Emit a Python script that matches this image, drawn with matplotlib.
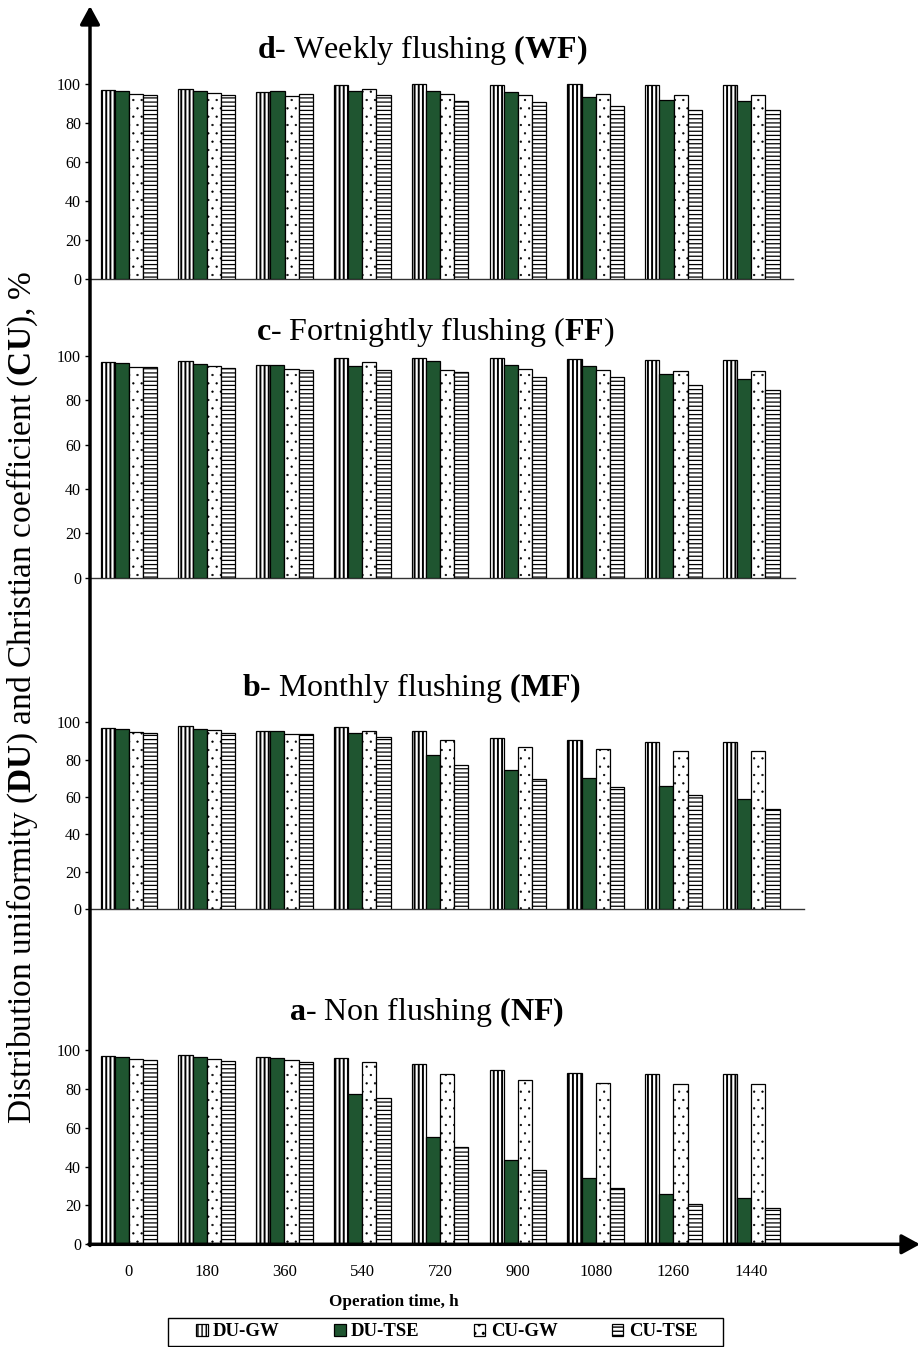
import matplotlib
matplotlib.use('Agg')
import matplotlib.pyplot as plt
from matplotlib.patches import Rectangle
import numpy as np

plt.rcParams['font.family'] = ['Liberation Serif', 'DejaVu Serif']
plt.rcParams['mathtext.fontset'] = 'custom'
plt.rcParams['mathtext.rm'] = 'Liberation Serif'
plt.rcParams['mathtext.bf'] = 'Liberation Serif:bold'
plt.rcParams['mathtext.it'] = 'Liberation Serif:italic'
plt.rcParams['hatch.linewidth'] = 1.2

times = ['0', '180', '360', '540', '720', '900', '1080', '1260', '1440']
series = ['DU-GW', 'DU-TSE', 'CU-GW', 'CU-TSE']

# d- weekly flushing
du_gw_wf = [96.8, 97.3, 95.9, 99.5, 100.0, 99.3, 100.0, 99.3, 99.3]
du_tse_wf = [96.2, 96.2, 96.6, 96.2, 96.2, 95.9, 93.5, 91.6, 91.3]
cu_gw_wf = [94.7, 95.4, 93.7, 97.4, 94.7, 94.2, 95.0, 94.2, 94.2]
cu_tse_wf = [94.2, 94.4, 94.7, 94.2, 91.3, 90.9, 88.5, 86.5, 86.5]

# c- fortnightly flushing
du_gw_ff = [97.0, 97.5, 95.8, 99.1, 98.8, 99.0, 98.6, 98.2, 98.2]
du_tse_ff = [96.6, 96.4, 95.7, 95.4, 97.6, 95.8, 95.2, 91.8, 89.5]
cu_gw_ff = [95.0, 95.4, 93.9, 97.0, 93.7, 94.0, 93.7, 93.2, 93.2]
cu_tse_ff = [94.8, 94.3, 93.7, 93.4, 92.8, 90.5, 90.3, 86.7, 84.4]

# b- monthly flushing
du_gw_mf = [96.8, 97.9, 95.5, 97.5, 95.5, 91.4, 90.7, 89.5, 89.5]
du_tse_mf = [96.4, 96.3, 95.5, 94.1, 82.5, 74.7, 70.2, 65.9, 59.0]
cu_gw_mf = [95.0, 95.9, 93.7, 95.5, 90.5, 86.6, 85.7, 84.7, 84.7]
cu_tse_mf = [94.4, 94.3, 93.6, 92.0, 77.3, 69.7, 65.2, 61.0, 53.8]

# a- non flushing
du_gw_nf = [96.9, 97.3, 96.4, 95.7, 93.0, 89.5, 88.0, 87.5, 87.5]
du_tse_nf = [96.6, 96.2, 95.7, 77.4, 55.2, 43.2, 34.0, 25.7, 23.7]
cu_gw_nf = [95.2, 95.4, 94.7, 93.7, 87.8, 84.6, 83.2, 82.3, 82.3]
cu_tse_nf = [94.7, 94.3, 93.8, 75.5, 50.2, 38.1, 28.8, 20.6, 18.5]

W, H = 920, 1347
fig = plt.figure(figsize=(W / 100, H / 100), dpi=100)

styles = [dict(color='white', hatch='||||', hlw=1.4),
          dict(color='#1f5530', hatch=None, hlw=1.0),
          dict(color='white', hatch='..', hlw=0.4),
          dict(color='white', hatch='----', hlw=0.9)]


def set_hlw(patch, lw):
    try:
        patch.set_hatch_linewidth(lw)
    except AttributeError:
        pass


group_px = 77.8
bw = 0.182
x = np.arange(len(times))

# (title, title x, title y, y of 0, y of 100, right end px, data)
panels = [
    (r"$\mathbf{d}$- Weekly flushing $\mathbf{(WF)}$", 422, 50, 279, 84, 793,
     [du_gw_wf, du_tse_wf, cu_gw_wf, cu_tse_wf]),
    (r"$\mathbf{c}$- Fortnightly flushing ($\mathbf{FF}$)", 435, 332, 577.7, 355.7, 795,
     [du_gw_ff, du_tse_ff, cu_gw_ff, cu_tse_ff]),
    (r"$\mathbf{b}$- Monthly flushing $\mathbf{(MF)}$", 412, 688, 909.3, 722.3, 804,
     [du_gw_mf, du_tse_mf, cu_gw_mf, cu_tse_mf]),
    (r"$\mathbf{a}$- Non flushing $\mathbf{(NF)}$", 427, 1012, 1244.3, 1050, 920,
     [du_gw_nf, du_tse_nf, cu_gw_nf, cu_tse_nf]),
]

handles = []
for i, (title, tx, ty, y0, y100, right, data) in enumerate(panels):
    top = 106
    ax = fig.add_axes([90 / W, 1 - y0 / H, (right - 90) / W, (y0 - y100) / H * top / 100])
    ax.set_xlim(-0.5, -0.5 + (right - 90) / group_px)
    ax.set_ylim(0, top)
    ax.patch.set_visible(False)
    for j, vals in enumerate(data):
        b = ax.bar(x + (j - 1.5) * bw, vals, bw, color=styles[j]['color'],
                   hatch=styles[j]['hatch'], edgecolor='black', linewidth=0.9,
                   label=series[j], zorder=3)
        for p in b:
            set_hlw(p, styles[j]['hlw'])
        if i == 0:
            handles.append(b)
    ax.set_yticks([0, 20, 40, 60, 80, 100])
    ax.tick_params(axis='y', direction='out', length=3.5, width=1, labelsize=11.5, pad=3)
    ax.spines['left'].set_visible(False)
    ax.spines['right'].set_visible(False)
    ax.spines['top'].set_visible(False)
    if i < 3:
        ax.spines['bottom'].set_color('#333333')
        ax.spines['bottom'].set_linewidth(1.0)
        ax.set_xticks([])
    else:
        ax.spines['bottom'].set_visible(False)
        ax.set_xticks(x)
        ax.set_xticklabels(times)
        ax.tick_params(axis='x', length=0, labelsize=12, pad=14)
    fig.text(tx / W, 1 - ty / H, title, ha='center', va='center', fontsize=23)

fig.text(22 / W, 1 - 697 / H,
         r"Distribution uniformity ($\mathbf{DU}$) and Christian coefficient ($\mathbf{CU}$), %",
         rotation=90, ha='center', va='center', fontsize=24)

fig.text(394 / W, 1 - 1302 / H, 'Operation time, h', ha='center', va='center',
         fontsize=12.3, fontweight='bold')

leg = fig.legend(handles=handles, labels=series, loc='center', ncol=4,
                 bbox_to_anchor=(447 / W, 1 - 1332 / H),
                 borderaxespad=0, frameon=False,
                 handlelength=0.6, handleheight=0.6, handletextpad=0.3,
                 columnspacing=2.9, prop={'weight': 'bold', 'size': 13.5})
for h in leg.legend_handles:
    set_hlw(h, 1.0)

# big axes arrows and legend box
ov = fig.add_axes([0, 0, 1, 1])
ov.set_xlim(0, W)
ov.set_ylim(H, 0)
ov.axis('off')
ov.patch.set_visible(False)
ov.add_patch(Rectangle((168, 1318), 555, 27.5, fill=False, edgecolor='black', lw=1.0))
ov.annotate('', xy=(90, 6), xytext=(90, 1245.5),
            arrowprops=dict(arrowstyle='-|>,head_length=0.55,head_width=0.3',
                            mutation_scale=20, lw=2.5, color='black',
                            shrinkA=0, shrinkB=0))
ov.annotate('', xy=(920, 1244.3), xytext=(88.8, 1244.3),
            arrowprops=dict(arrowstyle='-|>,head_length=0.55,head_width=0.3',
                            mutation_scale=20, lw=2.5, color='black',
                            shrinkA=0, shrinkB=0))

fig.savefig('out.png', dpi=100)
